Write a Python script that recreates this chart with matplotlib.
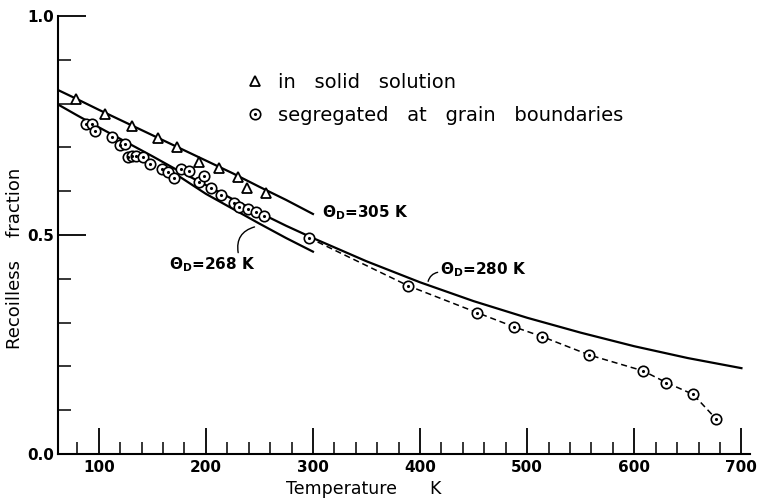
import matplotlib.pyplot as plt
from matplotlib.lines import Line2D

solid_T = [79, 106, 131, 155, 173, 194, 212, 230, 238, 256]
solid_f = [0.810, 0.776, 0.750, 0.722, 0.702, 0.667, 0.652, 0.633, 0.607, 0.595]

seg_T = [88, 94, 97, 112, 120, 125, 127, 131, 135, 141, 148, 159, 165, 170,
         177, 184, 194, 198, 205, 214, 226, 231, 239, 247, 254, 296,
         389, 453, 488, 514, 558, 608, 630, 655, 676]
seg_f = [0.753, 0.753, 0.737, 0.724, 0.705, 0.708, 0.679, 0.681, 0.680, 0.679,
         0.662, 0.651, 0.643, 0.629, 0.651, 0.645, 0.621, 0.635, 0.608, 0.592,
         0.572, 0.565, 0.559, 0.553, 0.543, 0.494,
         0.384, 0.323, 0.290, 0.268, 0.226, 0.190, 0.163, 0.136, 0.081]

# high temperature part joined by the dashed line
hot_T = seg_T[25:]
hot_f = seg_f[25:]

# Debye curves
d305_T = [62, 80, 100, 125, 150, 175, 200, 225, 250, 275, 300]
d305_f = [0.831, 0.810, 0.786, 0.757, 0.728, 0.699, 0.670, 0.641, 0.610, 0.580, 0.548]

d280_T = [62, 80, 100, 125, 150, 175, 200, 225, 250, 275, 300,
          350, 400, 450, 500, 550, 600, 650, 700]
d280_f = [0.798, 0.773, 0.746, 0.713, 0.680, 0.646, 0.614, 0.582, 0.551, 0.521, 0.493,
          0.440, 0.392, 0.349, 0.311, 0.277, 0.246, 0.219, 0.196]

d268_T = [165, 175, 200, 225, 250, 275, 300]
d268_f = [0.648, 0.634, 0.594, 0.560, 0.526, 0.493, 0.462]

x_ticks = [100, 200, 300, 400, 500, 600, 700]
y_ticks = [0.0, 0.5, 1.0]
y_ticklabels = ['0.0', '0.5', '1.0']

fig = plt.figure(figsize=(7.6, 4.98), dpi=100)
ax = fig.add_axes([58/760, 44/498, 692/760, 438/498])

lw = 1.6
ax.plot(d305_T, d305_f, color='black', lw=lw)
ax.plot(d280_T, d280_f, color='black', lw=lw)
ax.plot(d268_T, d268_f, color='black', lw=lw)
ax.plot(hot_T, hot_f, color='black', lw=1.1, ls=(0, (4, 2.5)))

ax.plot(solid_T, solid_f, ls='none', marker='^', ms=7, mfc='white',
        mec='black', mew=1.3)
ax.plot(seg_T, seg_f, ls='none', marker='o', ms=7.5, mfc='white',
        mec='black', mew=1.2)
ax.plot(seg_T, seg_f, ls='none', marker='.', ms=2.5, color='black')

# legend
h_tri = Line2D([], [], ls='none', marker='^', ms=7, mfc='white',
               mec='black', mew=1.3)
h_circ = (Line2D([], [], ls='none', marker='o', ms=7.5, mfc='white',
                 mec='black', mew=1.2),
          Line2D([], [], ls='none', marker='.', ms=2.5, color='black'))
ax.legend([h_tri, h_circ],
          ['in   solid   solution', 'segregated   at   grain   boundaries'],
          loc='upper left', bbox_to_anchor=(245/760, 1 - 73/498),
          bbox_transform=fig.transFigure, frameon=False, fontsize=14,
          handlelength=1.0, handletextpad=0.7, labelspacing=0.7,
          borderpad=0, borderaxespad=0)

# curve labels
kw = dict(fontsize=11, fontweight='bold', va='center')
ax.text(308, 0.550, r'Θ$_\mathregular{D}$=305 K', ha='left', **kw)
ax.annotate(r'Θ$_\mathregular{D}$=268 K', xy=(248, 0.520), xytext=(166, 0.432),
            ha='left', arrowprops=dict(arrowstyle='-', lw=1,
                                       connectionstyle='arc3,rad=-0.5',
                                       shrinkA=0, relpos=(0.8, 1.0)), **kw)
ax.annotate(r'Θ$_\mathregular{D}$=280 K', xy=(407, 0.388), xytext=(419, 0.420),
            ha='left', arrowprops=dict(arrowstyle='-', lw=1,
                                       connectionstyle='arc3,rad=0.4',
                                       shrinkA=0, relpos=(0.0, 0.4)), **kw)

# axes styling
ax.set_xlim(62, 708)
ax.set_ylim(0, 1.0)
for s in ['top', 'right']:
    ax.spines[s].set_visible(False)
ax.spines['left'].set_linewidth(1.5)
ax.spines['bottom'].set_linewidth(1.5)

ax.set_xticks(x_ticks)
ax.set_xticks(range(80, 701, 20), minor=True)
ax.set_yticks(y_ticks)
ax.set_yticklabels(y_ticklabels)
ax.set_yticks([0.1, 0.2, 0.3, 0.4, 0.6, 0.7, 0.8, 0.9], minor=True)
ax.tick_params(axis='both', which='major', direction='in', width=1.3,
               labelsize=11, pad=4)
ax.tick_params(axis='x', which='major', length=19)
ax.tick_params(axis='y', which='major', length=20, pad=3)
ax.tick_params(axis='both', which='minor', direction='in', width=1.1, length=9)
for lab in ax.get_xticklabels() + ax.get_yticklabels():
    lab.set_fontweight('bold')

fig.text(15/760, 1 - 258/498, 'Recoilless    fraction', rotation=90,
         ha='center', va='center', fontsize=13)
fig.text(364/760, 1 - 489/498, 'Temperature      K', ha='center', va='center',
         fontsize=12.5)

fig.savefig('out.png', dpi=100)
